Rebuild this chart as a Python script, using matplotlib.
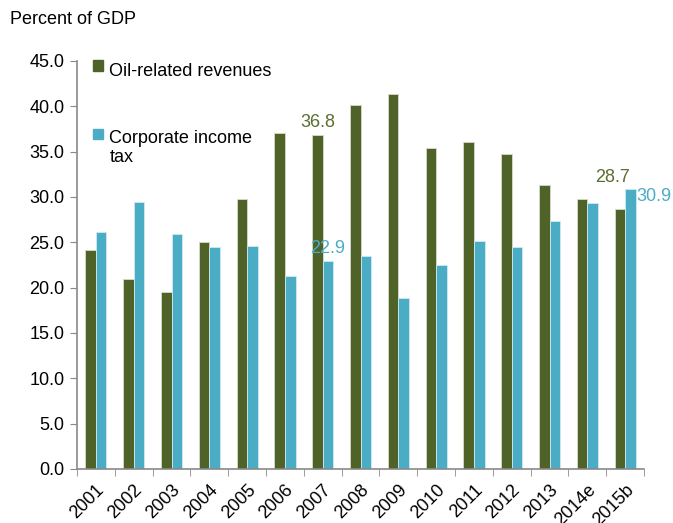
import numpy as np
import matplotlib
matplotlib.use("Agg")
import matplotlib.pyplot as plt
from matplotlib.patches import Patch

plt.rcParams['font.family'] = ['Liberation Sans', 'DejaVu Sans']

years = ['2001', '2002', '2003', '2004', '2005', '2006', '2007', '2008',
         '2009', '2010', '2011', '2012', '2013', '2014e', '2015b']
oil = [24.2, 21.0, 19.5, 25.0, 29.8, 37.1, 36.8, 40.2, 41.4, 35.4, 36.1, 34.7, 31.3, 29.8, 28.7]
corp = [26.1, 29.4, 25.9, 24.5, 24.6, 21.3, 22.9, 23.5, 18.9, 22.5, 25.1, 24.5, 27.3, 29.3, 30.9]

green = '#4F6228'
blue = '#4BACC6'
gray = '#898989'
fs = 13

fig = plt.figure(figsize=(6.73, 5.23), dpi=100)
ax = fig.add_axes([0.1144, 0.1033, 0.8426, 0.7801])

x = np.arange(len(years))
w = 0.28
ax.bar(x - w / 2, oil, w, color=green, edgecolor='#d8dccb', linewidth=0.6)
ax.bar(x + w / 2, corp, w, color=blue, edgecolor='#cfeaf1', linewidth=0.6)

ax.set_xlim(-0.5, len(years) - 0.5)
ax.set_ylim(0, 45)
ax.set_yticks(np.arange(0, 46, 5))
ax.set_yticklabels([f'{v:.1f}' for v in np.arange(0, 46, 5)], fontsize=fs)
ax.set_xticks(x)
ax.set_xticklabels(years, rotation=45, ha='right', rotation_mode='anchor', fontsize=fs)
ax.set_xticks(np.arange(-0.5, len(years), 1), minor=True)
ax.tick_params(axis='x', which='major', length=0, pad=9)
ax.tick_params(axis='x', which='minor', length=5, color=gray)
ax.tick_params(axis='y', length=5, color=gray, direction='out', pad=4)

for s in ['top', 'right']:
    ax.spines[s].set_visible(False)
for s in ['left', 'bottom']:
    ax.spines[s].set_color(gray)
    ax.spines[s].set_linewidth(1.2)

# value labels
ax.text(6 - w / 2, oil[6] + 0.5, f'{oil[6]:.1f}', color='#5a6e30', fontsize=fs, ha='center', va='bottom')
ax.text(6 + w / 2, corp[6] + 0.5, f'{corp[6]:.1f}', color=blue, fontsize=fs, ha='center', va='bottom')
ax.text(14 - w / 2 - 0.2, 31.2, f'{oil[14]:.1f}', color='#5a6e30', fontsize=fs, ha='center', va='bottom')
ax.text(14 + w + 0.01, corp[14] - 0.9, f'{corp[14]:.1f}', color=blue, fontsize=fs, ha='left', va='center')

handles = [Patch(color=green), Patch(color=blue)]
leg = ax.legend(handles, ['Oil-related revenues', 'Corporate income\ntax'],
                loc='upper left', bbox_to_anchor=(0.0, 1.045), frameon=False,
                fontsize=fs, handlelength=0.55, handleheight=0.55, handletextpad=0.35,
                labelspacing=2.2)
for t in leg.get_texts():
    t.set_va('center')

fig.text(0.015, 0.963, 'Percent of GDP', fontsize=fs, ha='left', va='center')

fig.savefig('out.png', dpi=100)
